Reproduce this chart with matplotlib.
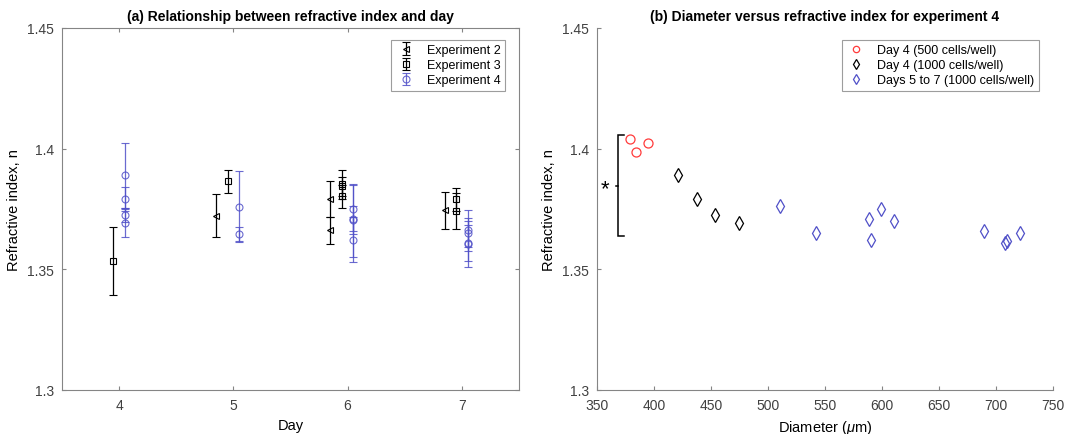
import numpy as np
from matplotlib import pyplot as plt

plt.rcParams['font.family'] = ['Liberation Sans', 'DejaVu Sans']
plt.rcParams['mathtext.fontset'] = 'custom'
plt.rcParams['mathtext.it'] = 'Liberation Sans:italic'
plt.rcParams['mathtext.rm'] = 'Liberation Sans'

# (a) refractive index per day for each experiment
exp2_day = [5, 6, 6, 7]
exp2_n = [1.3722, 1.3793, 1.3661, 1.3744]
exp2_err = [0.009, 0.0075, 0.0055, 0.0075]

exp3_day = [4, 5, 6, 6, 6, 7, 7]
exp3_n = [1.3535, 1.3864, 1.3852, 1.3844, 1.3803, 1.379, 1.3742]
exp3_err = [0.014, 0.0047, 0.006, 0.004, 0.0047, 0.0047, 0.0076]

exp4_day = [4, 4, 4, 4, 5, 5, 6, 6, 6, 6, 7, 7, 7, 7]
exp4_n = [1.3889, 1.3792, 1.3725, 1.3692, 1.376, 1.3646, 1.3749, 1.371,
          1.3703, 1.3623, 1.3661, 1.3652, 1.361, 1.3606]
exp4_err = [0.0136, 0.005, 0.003, 0.006, 0.0146, 0.003, 0.0102, 0.0053,
            0.015, 0.0093, 0.0085, 0.006, 0.0075, 0.0096]

# (b) diameter vs refractive index, experiment 4
d4_500_diam = [378.9, 384.2, 395.0]
d4_500_n = [1.4041, 1.3986, 1.4024]
d4_1000_diam = [420.8, 437.7, 453.8, 474.3]
d4_1000_n = [1.3889, 1.3793, 1.3726, 1.3693]
d57_diam = [510.5, 541.8, 588.6, 590.1, 598.9, 610.8, 689.5, 707.9, 709.4, 721.0]
d57_n = [1.3761, 1.3651, 1.3710, 1.3623, 1.3749, 1.3702, 1.3659, 1.3609, 1.3617, 1.3651]

# significance bracket
bracket_x = 368.7
bracket_top = 1.4055
bracket_bottom = 1.3637

blue = '#5050c8'
red = '#ff3b3b'
spine_gray = '#858585'
tick_col = '#404040'

fig = plt.figure(figsize=(10.67, 4.35), dpi=100)
ax1 = fig.add_axes([62/1067, 1-391/435, 457/1067, 362/435])
ax2 = fig.add_axes([597/1067, 1-391/435, 456/1067, 362/435])

eb = dict(linestyle='none', capsize=3, elinewidth=0.9, capthick=0.9,
          markersize=5, markeredgewidth=0.8, markerfacecolor='none')
ax1.errorbar(np.array(exp2_day) - 0.15, exp2_n, yerr=exp2_err, fmt='<',
             color='k', label='Experiment 2', **eb)
ax1.errorbar(np.array(exp3_day) - 0.05, exp3_n, yerr=exp3_err, fmt='s',
             color='k', label='Experiment 3', **dict(eb, markersize=4.5))
ax1.errorbar(np.array(exp4_day) + 0.05, exp4_n, yerr=exp4_err, fmt='o',
             color=blue, label='Experiment 4', alpha=0.85, **eb)

ax1.set_xlim(3.5, 7.5)
ax1.set_ylim(1.3, 1.45)
ax1.set_xticks([4, 5, 6, 7])
ax1.set_yticks([1.3, 1.35, 1.4, 1.45])
ax1.set_yticklabels(['1.3', '1.35', '1.4', '1.45'])
ax1.set_xlabel('Day', fontsize=10.5)
ax1.set_ylabel('Refractive index, n', fontsize=10.5)
ax1.set_title('(a) Relationship between refractive index and day',
              fontsize=10, fontweight='bold', pad=6)
ax1.tick_params(direction='in', top=True, right=True, length=3,
                color=spine_gray, labelcolor=tick_col, labelsize=10, pad=6)
for s in ax1.spines.values():
    s.set_color(spine_gray)
leg1 = ax1.legend(loc='upper right', fontsize=9, frameon=True, fancybox=False,
                  edgecolor=spine_gray, handlelength=1.6, borderpad=0.35,
                  labelspacing=0.25, handletextpad=0.9, bbox_to_anchor=(0.983, 0.985))
leg1.get_frame().set_linewidth(0.8)

ax2.plot(d4_500_diam, d4_500_n, 'o', color=red, markerfacecolor='none',
         markersize=6.5, markeredgewidth=0.9, label='Day 4 (500 cells/well)')
ax2.plot(d4_1000_diam, d4_1000_n, 'd', color='k', markerfacecolor='none',
         markersize=7.5, markeredgewidth=0.9, label='Day 4 (1000 cells/well)')
ax2.plot(d57_diam, d57_n, 'd', color=blue, markerfacecolor='none',
         markersize=7.5, markeredgewidth=0.9, label='Days 5 to 7 (1000 cells/well)')

bracket_mid = (bracket_top + bracket_bottom) / 2
ax2.plot([bracket_x + 5, bracket_x, bracket_x, bracket_x + 5],
         [bracket_top, bracket_top, bracket_bottom, bracket_bottom],
         color='k', lw=1.1, solid_joinstyle='miter')
ax2.plot([bracket_x - 2, bracket_x], [bracket_mid, bracket_mid], color='k', lw=1.1)
ax2.text(bracket_x - 12, bracket_mid - 0.001, '*', fontsize=16, ha='center', va='center')

ax2.set_xlim(350, 750)
ax2.set_ylim(1.3, 1.45)
ax2.set_xticks(np.arange(350, 751, 50))
ax2.set_yticks([1.3, 1.35, 1.4, 1.45])
ax2.set_yticklabels(['1.3', '1.35', '1.4', '1.45'])
ax2.set_xlabel(r'Diameter ($\mu$m)', fontsize=10.5)
ax2.set_ylabel('Refractive index, n', fontsize=10.5)
ax2.set_title('(b) Diameter versus refractive index for experiment 4',
              fontsize=10, fontweight='bold', pad=6)
ax2.tick_params(direction='in', length=3, color=spine_gray,
                labelcolor=tick_col, labelsize=10, pad=6)
ax2.spines['top'].set_visible(False)
ax2.spines['right'].set_visible(False)
for s in ax2.spines.values():
    s.set_color(spine_gray)
leg2 = ax2.legend(loc='upper right', fontsize=9, frameon=True, fancybox=False,
                  edgecolor=spine_gray, handlelength=1.6, borderpad=0.35,
                  labelspacing=0.25, handletextpad=0.9, markerscale=0.7,
                  bbox_to_anchor=(0.983, 0.985))
leg2.get_frame().set_linewidth(0.8)

plt.savefig('out.png', dpi=100)
